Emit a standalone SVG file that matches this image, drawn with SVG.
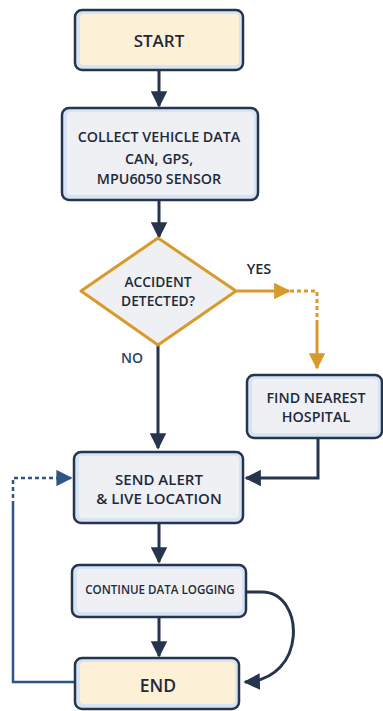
<svg xmlns="http://www.w3.org/2000/svg" width="383" height="711" viewBox="0 0 383 711">
<defs>
<style>
.box{fill:#d6e4f4;stroke:#26344d;stroke-width:2.5}
.inner{fill:#eef0f4}
.term .inner{fill:#fcf0d6}
.t{font-family:"Open Sans","Liberation Sans",sans-serif;font-weight:600;fill:#1e2a3a;text-anchor:middle}
.c{fill:none;stroke:#26344d;stroke-width:3}
.o{fill:none;stroke:#d89a2c;stroke-width:3}
</style>
<marker id="ah" viewBox="0 0 10 10" refX="9" refY="5" markerWidth="5.5" markerHeight="5.5" markerUnits="strokeWidth" orient="auto"><path d="M0,0 L10,5 L0,10 z" fill="#26344d"/></marker>
<marker id="ao" viewBox="0 0 10 10" refX="9" refY="5" markerWidth="5.5" markerHeight="5.5" markerUnits="strokeWidth" orient="auto"><path d="M0,0 L10,5 L0,10 z" fill="#d89a2c"/></marker>
<marker id="ab" viewBox="0 0 10 10" refX="9" refY="5" markerWidth="6.5" markerHeight="6.5" markerUnits="strokeWidth" orient="auto"><path d="M0,0 L10,5 L0,10 z" fill="#2f5486"/></marker>
</defs>
<rect width="383" height="711" fill="#ffffff"/>
<g id="connectors">
<path class="c" d="M159,71 V106" marker-end="url(#ah)"/>
<path class="c" d="M159,201 V237" marker-end="url(#ah)"/>
<path class="o" d="M237,291 H289" marker-end="url(#ao)"/>
<path class="o" d="M290,291 H317 V322" stroke-dasharray="4,3"/>
<path class="o" d="M317,322 V368" marker-end="url(#ao)"/>
<path class="c" d="M158,345 V448" marker-end="url(#ah)"/>
<path class="c" d="M318,439 V478 H246" marker-end="url(#ah)"/>
<path d="M75,682 H13 V505" fill="none" stroke="#2f5486" stroke-width="2.5"/>
<path d="M13,505 V478 H71" fill="none" stroke="#2f5486" stroke-width="2.5" stroke-dasharray="4,3" marker-end="url(#ab)"/>
<path class="c" d="M159,524 V562" marker-end="url(#ah)"/>
<path class="c" d="M159,618 V656" marker-end="url(#ah)"/>
<path class="c" d="M247,592 H262 C305,592 308,680 245,682" marker-end="url(#ah)"/>
<text class="t" x="259" y="274" font-size="14.5">YES</text>
<text class="t" x="132" y="363" font-size="14" style="fill:#2b4468">NO</text>
</g>
<g id="start" class="term">
<rect class="box" x="75" y="10" width="168" height="60" rx="7"/>
<rect class="inner" x="80" y="14" width="159" height="51" rx="4"/>
<text class="t" x="159" y="47" font-size="17">START</text>
</g>
<g id="collect">
<rect class="box" x="62" y="108" width="196" height="92" rx="7"/>
<rect class="inner" x="67" y="112" width="187" height="83" rx="4"/>
<text class="t" x="159" y="142" font-size="14.3">COLLECT VEHICLE DATA</text>
<text class="t" x="159" y="164" font-size="14.3">CAN, GPS,</text>
<text class="t" x="159" y="184" font-size="14.3">MPU6050 SENSOR</text>
</g>
<g id="decision">
<path d="M158,238 L236,291 L158,345 L81,291 Z" fill="#eef0f4" stroke="#d89a2c" stroke-width="3" stroke-linejoin="round"/>
<text class="t" x="158" y="287" font-size="13.8">ACCIDENT</text>
<text class="t" x="158" y="306" font-size="13.8">DETECTED?</text>
</g>
<g id="hospital">
<rect class="box" x="247" y="375" width="135" height="63" rx="7"/>
<rect class="inner" x="252" y="379" width="126" height="54" rx="4"/>
<text class="t" x="316" y="403" font-size="14.3">FIND NEAREST</text>
<text class="t" x="316" y="422" font-size="14.3">HOSPITAL</text>
</g>
<g id="alert">
<rect class="box" x="74" y="452" width="169" height="71" rx="7"/>
<rect class="inner" x="79" y="456" width="160" height="62" rx="4"/>
<text class="t" x="159" y="485" font-size="15">SEND ALERT</text>
<text class="t" x="159" y="504" font-size="15">&amp; LIVE LOCATION</text>
</g>
<g id="logging">
<rect class="box" x="72" y="565" width="174" height="52" rx="7"/>
<rect class="inner" x="77" y="569" width="165" height="43" rx="4"/>
<text class="t" x="160" y="594" font-size="11.6">CONTINUE DATA LOGGING</text>
</g>
<g id="end" class="term">
<rect class="box" x="75" y="658" width="164" height="51" rx="7"/>
<rect class="inner" x="80" y="662" width="155" height="42" rx="4"/>
<text class="t" x="158" y="692" font-size="17.5">END</text>
</g>
</svg>
